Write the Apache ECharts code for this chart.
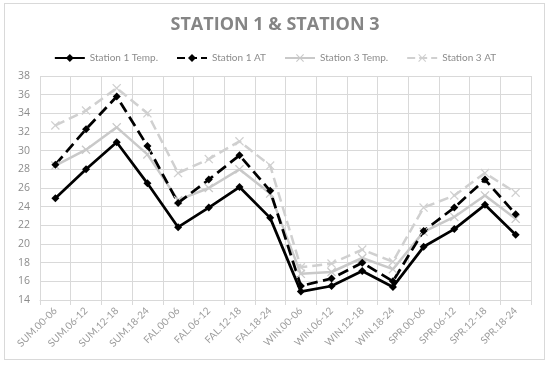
<!DOCTYPE html>
<html><head><meta charset="utf-8">
<script src="https://cdn.jsdelivr.net/npm/echarts@6/dist/echarts.min.js"></script>
<style>html,body{margin:0;padding:0;background:#fff}#c{width:550px;height:366px}
#frame{position:absolute;left:4px;top:3px;width:541px;height:357px;border:1px solid #d9d9d9;box-sizing:border-box;pointer-events:none}</style>
</head><body><div id="c"></div><div id="frame"></div>
<script>
const categories = ['SUM.00-06','SUM.06-12','SUM.12-18','SUM.18-24','FAL.00-06','FAL.06-12','FAL.12-18','FAL.18-24','WIN.00-06','WIN.06-12','WIN.12-18','WIN.18-24','SPR.00-06','SPR.06-12','SPR.12-18','SPR.18-24'];
const st1Temp = [24.9,28.0,30.9,26.5,21.8,23.9,26.1,22.8,14.9,15.5,17.1,15.4,19.7,21.6,24.2,21.0];
const st1AT   = [28.5,32.3,35.8,30.5,24.4,26.9,29.5,25.7,15.5,16.3,18.0,16.0,21.4,23.9,26.9,23.2];
const st3Temp = [28.4,30.1,32.5,29.6,24.7,26.0,28.0,25.4,16.8,17.0,18.5,17.3,21.3,22.9,25.2,22.7];
const st3AT   = [32.7,34.3,36.7,34.0,27.6,29.1,31.0,28.4,17.5,17.9,19.4,18.1,23.9,25.2,27.6,25.5];
const yTicks = {min:14, max:38, interval:2};

const xSym = 'path://M0,1L1,0L5,4L9,0L10,1L6,5L10,9L9,10L5,6L1,10L0,9L4,5Z';
const chart = echarts.init(document.getElementById('c'));
function ser(name, data, color, type, sym, size, w){
  return {name, type:'line', data, symbol:sym, symbolSize:size, showSymbol:true,
    lineStyle:{color, width:w, type}, itemStyle:{color}, z: 2};
}
chart.setOption({
  animation:false,
  title:{text:'STATION 1 & STATION 3', left:'center', top:11,
    textStyle:{fontFamily:'Open Sans', fontSize:18, fontWeight:'bold', color:'#858585'}},
  legend:{top:48, left:'center', itemWidth:30, itemHeight:10, itemGap:18,
    textStyle:{fontFamily:'Lato', fontSize:10, color:'#8c8c8c'},
    data:['Station 1 Temp.','Station 1 AT','Station 3 Temp.','Station 3 AT']},
  grid:{left:40, right:19, top:76, bottom:66},
  xAxis:{type:'category', data:categories, boundaryGap:true,
    axisLine:{lineStyle:{color:'#d9d9d9'}}, axisTick:{show:true, lineStyle:{color:'#d9d9d9'}},
    splitLine:{show:true, lineStyle:{color:'#d9d9d9'}},
    axisLabel:{rotate:45, interval:0, fontFamily:'Lato', fontSize:10, color:'#9c9c9c', margin:9}},
  yAxis:{type:'value', min:yTicks.min, max:yTicks.max, interval:yTicks.interval,
    axisLine:{show:false}, axisTick:{show:false},
    splitLine:{lineStyle:{color:'#d9d9d9'}},
    axisLabel:{fontFamily:'Open Sans', fontSize:10.5, color:'#8c8c8c', margin:10}},
  series:[
    ser('Station 3 AT', st3AT, '#d0d0d0', 'dashed', xSym, 9, 2.5),
    ser('Station 3 Temp.', st3Temp, '#c9c9c9', 'solid', xSym, 9, 2.5),
    ser('Station 1 AT', st1AT, '#000000', 'dashed', 'diamond', 8, 2.75),
    ser('Station 1 Temp.', st1Temp, '#000000', 'solid', 'diamond', 8, 2.75)
  ]
});
</script></body></html>
